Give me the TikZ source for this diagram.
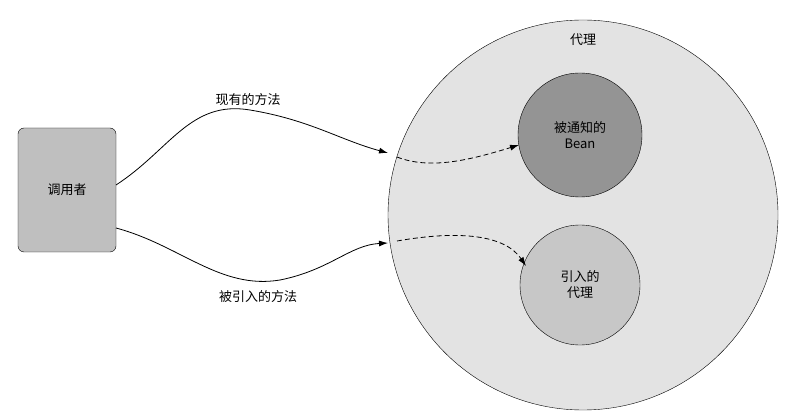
\documentclass[tikz,border=0pt]{standalone}
\usepackage{fontspec}
\setmainfont{Noto Sans CJK SC}
\usetikzlibrary{arrows.meta}
\begin{document}
\begin{tikzpicture}[x=1pt,y=-1pt,
  lbl/.style={font=\fontsize{13}{16}\selectfont},
  conn/.style={line width=0.8pt,-{Latex[length=9pt,width=6pt]}},
  dconn/.style={conn,dash pattern=on 5pt off 3pt}]
\useasboundingbox (0,0) rectangle (791,411);
\node[draw,rounded corners=6pt,fill=black!25,minimum width=98pt,minimum height=124pt,lbl] (caller) at (67,190) {调用者};
\node[draw,circle,fill=black!11,minimum size=390pt] (proxy) at (583,215) {};
\node[lbl] (plabel) at (583,40) {代理};
\node[draw,circle,fill=black!42,minimum size=124pt,align=center,lbl] (bean) at (580,135) {被通知的\\Bean};
\node[draw,circle,fill=black!22,minimum size=120pt,align=center,lbl] (intro) at (580,285) {引入的\\代理};
\coordinate (a1) at (116,185);
\coordinate (a2) at (388,153);
\coordinate (a3) at (397,157);
\coordinate (b1) at (116,228);
\coordinate (b2) at (388,243);
\coordinate (b3) at (397,241);
\coordinate (bend) at (519,145);
\coordinate (iend) at (526,266);
\draw[conn] (a1) .. controls (170,150) and (190,100) .. (250,110) .. controls (310,120) and (340,140) .. (a2);
\draw[dconn] (a3) .. controls (430,170) and (470,160) .. (bend);
\draw[conn] (b1) .. controls (180,245) and (220,290) .. (280,280) .. controls (330,270) and (350,245) .. (b2);
\draw[dconn] (b3) .. controls (460,230) and (505,235) .. (iend);
\node[lbl] (t1) at (248,100) {现有的方法};
\node[lbl] (t2) at (258,297) {被引入的方法};
\end{tikzpicture}
\end{document}
